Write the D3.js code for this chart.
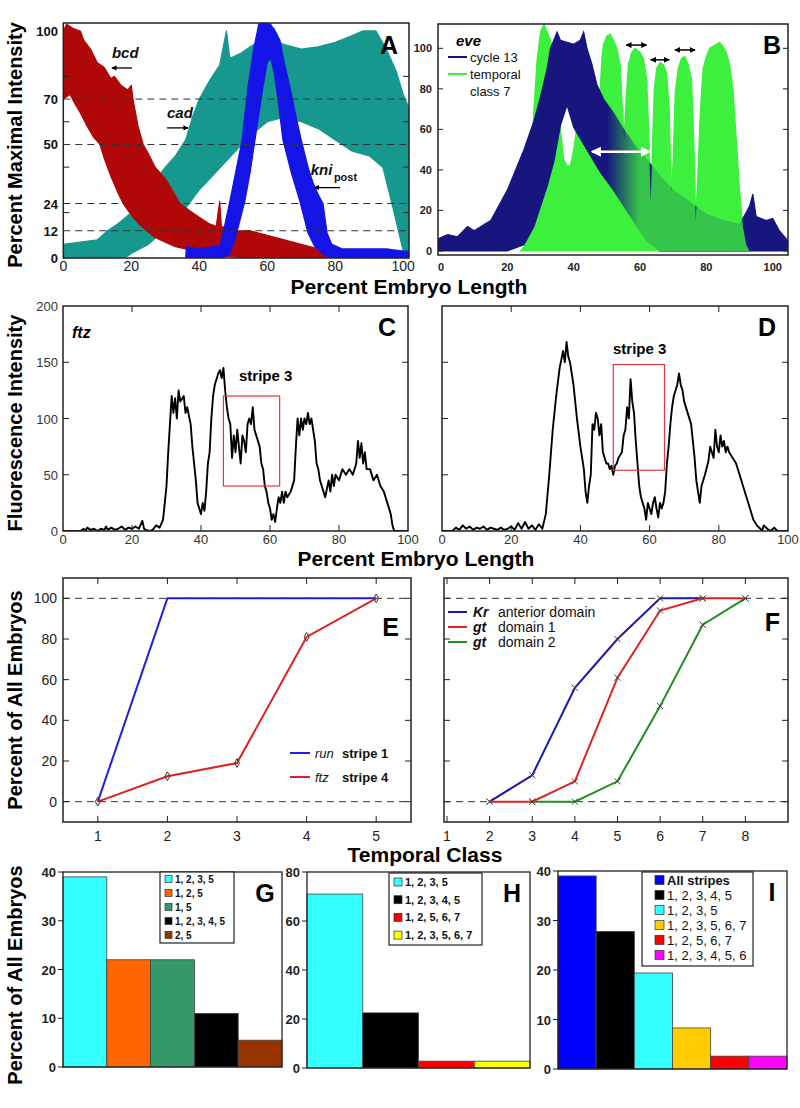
<!DOCTYPE html>
<html><head><meta charset="utf-8">
<script src="https://cdn.jsdelivr.net/npm/d3@7"></script>
<style>body{margin:0;background:#fff}svg{display:block}text{font-family:"Liberation Sans",Arial,Helvetica,sans-serif}</style>
</head><body><svg id="c" width="800" height="1108"></svg>
<script>
// ---------- Panel A data (envelopes of traces, % embryo length, % max intensity)
const bcdLow = [[0,70],[2,72],[3.4,68],[5,64],[7,58],[9,53],[10.8,50],[12,44],[14,36],[16,29],[17.6,24],[19,21],[21,17],[23,14],[24.5,12],[27,9],[30,7],[33,5],[36,4],[40,2],[45,1],[50,0.5],[55,0],[82,0]];
const bcdHigh = [[0,100],[1,103],[3,101],[5,100],[6,96],[8,92],[10,86],[12,84],[14,79],[15,80],[17,76],[19,74],[20,76],[20.5,70],[22,58],[23.5,50],[25,46],[27,40],[30,35],[32,30],[34.3,24],[37,21],[40,18],[43,15],[45,14],[46,25],[46.5,14],[50,12],[55,12],[60,10],[65,8],[70,6],[75,4],[78,2],[82,0]];
const cadLow = [[0,0],[18,0],[20,2],[25,6],[28,10],[32,16],[36,22],[40,30],[45,38],[50,46],[55,54],[60,60],[65,62],[70,60],[75,57],[80,52],[85,47],[90,45],[94,40],[97,22],[100,3],[101.7,0]];
const cadHigh = [[0,6],[5,7],[10,8],[13,12],[16,15],[20,20],[22.5,25],[26,32],[30,40],[33,45],[36,52],[38,62],[40,70],[43,78],[46,85],[48,100],[49,88],[52,90],[55,93],[58,96],[60,100],[61,104],[62,96],[65,94],[70,92],[75,93],[80,95],[85,98],[88,100],[92,100],[95,92],[98,82],[100,72],[101.7,66]];
const kniLow = [[36,0],[47,0],[49,2],[51,11],[53.4,25],[55,38],[56.4,52],[58.7,75],[60,86],[61,88],[62,82],[63.3,68],[64.6,52],[67,38],[69.6,25],[72,11],[74,5],[77,1],[80,0],[101.7,0]];
const kniHigh = [[36,0],[36.2,5],[40,4],[44,5],[46,5],[47,11],[49,25],[51,40],[52.6,52],[54.3,75],[56,92],[57.5,103],[60,104],[62,101],[63.7,96],[65,86],[66.7,75],[68.5,62],[70,52],[72,40],[73.5,33],[75,28],[76.4,24],[77.6,11],[79,6],[82,4],[90,4],[95,4],[100,3],[101.7,3]];
const aTickLabels = [0,12,24,50,70,100];
const aDashed = [12,24,50,70];
const lengthTicks = [0,20,40,60,80,100];

// ---------- Panel B data
const navyLow = [[-0.9,0],[20,0],[25,3],[28,12],[30,22],[32,32],[34,44],[36,62],[38,72],[40,61],[44,50],[48,39],[52,30],[56,20],[62,5],[66,0],[104.6,0]];
const navyHigh = [[-0.9,6],[2,8],[5,7],[8,12],[10,10],[13,13],[15,15],[18,24],[20,30],[22,38],[25,50],[28,64],[30,76],[32,90],[33,100],[34,104],[35,108],[36,104],[38,103],[40,102],[42,104],[43,108],[44,100],[45.5,92],[47,82],[49,75],[52,68],[55,60],[58,53],[61,47],[64,41],[67,35],[70,30],[75,24],[80,18],[85,15],[90,13],[93,22],[94,28],[95,17],[98,15],[100,16],[102,10],[104.6,5]];
const greenTop = [[24,0],[25,2],[26,8],[27,30],[28,70],[29,95],[30,108],[31,112],[32,108],[33,104],[34,95],[35,80],[36,60],[37,45],[38,42],[39,42],[40,50],[41,62],[42,68],[43,70],[44,68],[45,62],[46,52],[47,50],[48,80],[48.5,95],[49,102],[50,106],[51,107],[52,104],[53,100],[54,92],[54.7,70],[55.2,55],[55.8,75],[56.5,92],[57.5,98],[58.5,100],[60,98],[61,95],[62,85],[62.6,60],[63.2,24],[63.8,55],[64.3,80],[65,90],[66,93],[67,92],[68,88],[68.8,70],[69.4,29],[70,45],[70.6,78],[71.5,90],[72.5,95],[73.5,96],[74.5,92],[75.5,85],[76.2,55],[76.8,15],[77.5,40],[78.2,70],[79,90],[80,96],[81,100],[82,101],[83,102],[84,103],[85,101],[86,98],[87,92],[88,80],[89,55],[90,30],[91,12],[92,3],[93,0]];
const bTicks = [0,20,40,60,80,100];

// ---------- Panels C, D data (ftz fluorescence traces)
const ftzC = [[0,0],[5,0],[6,2],[6.5,0],[7,3],[8,1],[9,2],[10,0],[11,2],[12,1],[12.5,4],[13,1],[14,3],[15,1],[16,2],[17,4],[18,1],[19,3],[20,2],[21,4],[22,2],[23,9],[23.5,2],[24,1],[25,0],[26,1],[27,5],[28,3],[29,10],[30,40],[30.5,70],[31,95],[31.5,120],[32,105],[32.5,118],[33,100],[33.5,125],[34,115],[35,120],[35.5,105],[36,110],[37,95],[37.5,75],[38,60],[38.5,45],[39,25],[39.5,20],[40,15],[40.5,25],[41,18],[41.5,35],[42,60],[42.5,70],[43,100],[43.5,120],[44,130],[45,140],[45.5,143],[46,136],[46.5,145],[47,125],[47.5,110],[48,100],[48.5,95],[49,65],[49.5,85],[50,70],[50.5,90],[51,75],[51.5,60],[52,85],[52.5,80],[53,70],[53.5,95],[54,100],[54.5,95],[55,110],[55.5,90],[56,85],[57,75],[57.5,60],[58,55],[58.5,40],[59,35],[59.5,25],[60,20],[60.5,10],[61,15],[61.5,8],[62,20],[62.5,30],[63,25],[63.5,35],[64,25],[64.5,35],[65,30],[66,35],[67,45],[67.5,75],[68,100],[68.5,85],[69,100],[69.5,90],[70,100],[70.5,95],[71,105],[71.5,95],[72,100],[72.5,90],[73,80],[73.5,60],[74,55],[74.5,45],[75,40],[75.5,35],[76,30],[77,45],[77.5,35],[78,50],[78.5,40],[79,50],[80,45],[81,55],[82,50],[83,55],[84,50],[85,60],[85.5,80],[86,65],[86.5,78],[87,60],[87.5,70],[88,55],[89,55],[90,45],[91,50],[92,40],[93,35],[94,25],[95,15],[95.5,5],[96,0],[100,0]];
const ftzD = [[0,0],[3,0],[4,3],[5,1],[6,5],[7,2],[8,4],[9,1],[10,3],[11,2],[12,4],[13,1],[14,3],[15,2],[16,1],[17,3],[18,1],[19,2],[20,4],[21,1],[22,7],[23,2],[24,8],[25,2],[26,5],[27,1],[28,6],[29,2],[30,15],[31,50],[32,90],[33,120],[34,145],[35,160],[35.5,150],[36,168],[36.5,155],[37,150],[38,130],[39,100],[40,75],[41,55],[41.5,35],[42,25],[42.5,40],[43,50],[43.5,95],[44,90],[44.5,105],[45,100],[45.5,85],[46,95],[46.5,70],[47,65],[47.5,60],[48,60],[48.5,55],[49,58],[49.5,50],[50,58],[50.5,60],[51,65],[52,70],[52.5,85],[53,90],[53.5,110],[54,100],[54.5,135],[55,115],[55.5,105],[56,80],[56.5,60],[57,40],[57.5,30],[58,25],[58.5,20],[59,10],[59.5,25],[60,20],[60.5,15],[61,25],[61.5,30],[62,20],[62.5,12],[63,25],[63.5,20],[64,25],[64.5,35],[65,60],[65.5,75],[66,95],[66.5,110],[67,120],[68,130],[68.5,140],[69,130],[69.5,125],[70,115],[71,105],[72,95],[72.5,80],[73,65],[73.5,45],[74,35],[74.5,25],[75,40],[76,50],[77,62],[77.5,75],[78,70],[78.5,65],[79,90],[79.5,75],[80,70],[80.5,85],[81,75],[81.5,80],[82,70],[82.5,75],[83,70],[84,65],[85,60],[86,50],[87,40],[88,30],[89,20],[90,10],[91,5],[92,2],[92.5,0],[93,5],[94,2],[95,0],[96,3],[97,0],[100,0]];
const boxC = {x0:46.5, x1:62.8, y0:40, y1:120};
const boxD = {x0:49.5, x1:64.3, y0:54, y1:148};
const fluoTicks = [0,50,100,150,200];

// ---------- Panel E data
const classesE = [1,2,3,4,5];
const runStripe1 = [0,100,100,100,100];
const ftzStripe4 = [0,12.5,19,81,100];
// ---------- Panel F data
const classesKr = [2,3,4,5,6,7];
const krAnterior = [0,13,56,80,100,100];
const classesGt1 = [2,3,4,5,6,7,8];
const gtDomain1 = [0,0,10,61,94,100,100];
const classesGt2 = [3,4,5,6,7,8];
const gtDomain2 = [0,0,10,47,87,100];
const pctTicks = [0,20,40,60,80,100];

// ---------- Panels G, H, I data
const gLabels = ["1, 2, 3, 5","1, 2, 5","1, 5","1, 2, 3, 4, 5","2, 5"];
const gValues = [39,22,22,11,5.5];
const gColors = ["#33ffff","#ff6600","#339966","#000000","#993300"];
const hLabels = ["1, 2, 3, 5","1, 2, 3, 4, 5","1, 2, 5, 6, 7","1, 2, 3, 5, 6, 7"];
const hValues = [71,22.5,2.8,2.8];
const hColors = ["#33ffff","#000000","#ff0000","#ffff00"];
const iLabels = ["All stripes","1, 2, 3, 4, 5","1, 2, 3, 5","1, 2, 3, 5, 6, 7","1, 2, 5, 6, 7","1, 2, 3, 4, 5, 6"];
const iValues = [39,27.8,19.4,8.3,2.6,2.6];
const iColors = ["#0000ff","#000000","#33ffff","#ffcc00","#ff0000","#ff00ff"];

// ================= drawing =================
const svg = d3.select("#c");
const defs = svg.append("defs");
function mkArrow(id, color){
  defs.append("marker").attr("id",id).attr("viewBox","0 0 10 10").attr("refX",9).attr("refY",5)
    .attr("markerWidth",4).attr("markerHeight",4).attr("orient","auto-start-reverse")
    .append("path").attr("d","M0,0L10,5L0,10z").attr("fill",color);
}
mkArrow("ab","#000"); mkArrow("aw","#fff");
let clipN = 0;
function clip(x0,y0,x1,y1){
  const id = "cl"+(clipN++);
  defs.append("clipPath").attr("id",id).append("rect").attr("x",x0).attr("y",y0).attr("width",x1-x0).attr("height",y1-y0);
  return "url(#"+id+")";
}
function frame(x0,y0,x1,y1,w){
  svg.append("rect").attr("x",x0).attr("y",y0).attr("width",x1-x0).attr("height",y1-y0)
    .attr("fill","none").attr("stroke","#222").attr("stroke-width",w||1.5);
}
function bandPath(x,y,low,high){
  const pts = high.concat(low.slice().reverse());
  return d3.line().x(d=>x(d[0])).y(d=>y(d[1]))(pts)+"Z";
}
function inTicksY(x,y,vals,side,len){
  vals.forEach(v=>{
    const yy=y(v);
    svg.append("line").attr("x1",x.range()[0]).attr("x2",x.range()[0]+len).attr("y1",yy).attr("y2",yy).attr("stroke","#222").attr("stroke-width",1);
    svg.append("line").attr("x1",x.range()[1]).attr("x2",x.range()[1]-len).attr("y1",yy).attr("y2",yy).attr("stroke","#222").attr("stroke-width",1);
  });
}
function inTicksX(x,y,vals,len){
  vals.forEach(v=>{
    const xx=x(v);
    svg.append("line").attr("x1",xx).attr("x2",xx).attr("y1",y.range()[0]).attr("y2",y.range()[0]-len).attr("stroke","#222").attr("stroke-width",1);
    svg.append("line").attr("x1",xx).attr("x2",xx).attr("y1",y.range()[1]).attr("y2",y.range()[1]+len).attr("stroke","#222").attr("stroke-width",1);
  });
}
function txt(x,y,s,opt){
  opt=opt||{};
  const t=svg.append("text").attr("x",x).attr("y",y).text(s)
    .attr("font-size",opt.size||13).attr("font-weight",opt.weight||"normal")
    .attr("font-style",opt.style||"normal").attr("fill",opt.fill||"#111")
    .attr("text-anchor",opt.anchor||"start");
  if(opt.rot) t.attr("transform","rotate(-90,"+x+","+y+")");
  return t;
}
function dashed(x,y,v){
  svg.append("line").attr("x1",x.range()[0]).attr("x2",x.range()[1]).attr("y1",y(v)).attr("y2",y(v))
    .attr("stroke","#333").attr("stroke-width",1).attr("stroke-dasharray","7,5");
}

// ---------- Panel A
{
  const x=d3.scaleLinear().domain([0,101.7]).range([63.3,409]);
  const y=d3.scaleLinear().domain([0,103.5]).range([258,23]);
  const g=svg.append("g").attr("clip-path",clip(63.3,23,409,258));
  [[cadLow,cadHigh,"#17988f"],[bcdLow,bcdHigh,"#b00808"],[kniLow,kniHigh,"#1414e6"]].forEach(([lo,hi,c])=>{
    g.append("path").attr("d",bandPath(x,y,lo,hi)).attr("fill",c).attr("stroke",c).attr("stroke-width",1.2).attr("stroke-linejoin","round");
  });
  aDashed.forEach(v=>dashed(x,y,v));
  frame(63.3,23,409,258);
  inTicksY(x,y,[20,40,60,80],null,6);
  aTickLabels.forEach(v=>txt(58,y(v)+5,v,{size:13,weight:"bold",anchor:"end"}));
  lengthTicks.forEach(v=>txt(x(v),271,v,{size:14,anchor:"middle",fill:"#222"}));
  txt(x(14.3),y(88),"bcd",{size:15,weight:"bold",style:"italic"});
  svg.append("line").attr("x1",x(20.2)).attr("x2",x(14.3)).attr("y1",y(83.7)).attr("y2",y(83.7)).attr("stroke","#000").attr("stroke-width",1.3).attr("marker-end","url(#ab)");
  txt(x(30.5),y(61.7),"cad",{size:15,weight:"bold",style:"italic"});
  svg.append("line").attr("x1",x(30.5)).attr("x2",x(36.7)).attr("y1",y(57.3)).attr("y2",y(57.3)).attr("stroke","#000").attr("stroke-width",1.3).attr("marker-end","url(#ab)");
  txt(x(72.8),y(36.6),"kni",{size:15,weight:"bold",style:"italic"});
  txt(x(79.6),y(34),"post",{size:11,weight:"bold"});
  svg.append("line").attr("x1",x(81.4)).attr("x2",x(73.9)).attr("y1",y(31)).attr("y2",y(31)).attr("stroke","#000").attr("stroke-width",1.3).attr("marker-end","url(#ab)");
  txt(398,54,"A",{size:25,weight:"bold",anchor:"end",fill:"#000"});
}

// ---------- Panel B
{
  const x=d3.scaleLinear().domain([-0.9,104.6]).range([438,788]);
  const y=d3.scaleLinear().domain([-2,112]).range([255,24]);
  const g=svg.append("g").attr("clip-path",clip(438,24,788,255));
  const navyC="#16167e", greenC="#3df03d";
  const gArea=d3.area().x(d=>x(d[0])).y0(y(0)).y1(d=>y(d[1]));
  g.append("path").attr("d",gArea(greenTop)).attr("fill",greenC).attr("stroke",greenC).attr("stroke-width",1.2);
  g.append("path").attr("d",bandPath(x,y,navyLow,navyHigh)).attr("fill",navyC).attr("stroke",navyC).attr("stroke-width",1.2);
  // green overlay fading in to the right of the cycle-13 peak
  const grad=defs.append("linearGradient").attr("id","gfade").attr("gradientUnits","userSpaceOnUse")
    .attr("x1",x(50)).attr("x2",x(60)).attr("y1",0).attr("y2",0);
  grad.append("stop").attr("offset",0).attr("stop-color",greenC).attr("stop-opacity",0);
  grad.append("stop").attr("offset",1).attr("stop-color",greenC).attr("stop-opacity",0.8);
  g.append("path").attr("d",gArea(greenTop)).attr("fill","url(#gfade)");
  frame(438,24,788,255);
  inTicksY(x,y,bTicks,null,5);
  bTicks.forEach(v=>txt(432,y(v)+4,v,{size:11,weight:"bold",anchor:"end",fill:"#222"}));
  bTicks.forEach(v=>txt(x(v),271,v,{size:11,weight:"bold",anchor:"middle",fill:"#222"}));
  const arr=(a,b,v,c,w,m)=>svg.append("line").attr("x1",x(a)).attr("x2",x(b)).attr("y1",y(v)).attr("y2",y(v))
    .attr("stroke",c).attr("stroke-width",w).attr("marker-start",m).attr("marker-end",m);
  arr(45.5,63,49,"#fff",2.5,"url(#aw)");
  arr(55.8,62,101.6,"#000",1.5,"url(#ab)");
  arr(63.2,68.8,94.3,"#000",1.5,"url(#ab)");
  arr(70.5,76.6,99.2,"#000",1.5,"url(#ab)");
  txt(456,46,"eve",{size:15,weight:"bold",style:"italic",fill:"#000"});
  svg.append("line").attr("x1",448).attr("x2",467).attr("y1",57).attr("y2",57).attr("stroke",navyC).attr("stroke-width",2);
  txt(470,62,"cycle 13",{size:13,fill:"#111"});
  svg.append("line").attr("x1",448).attr("x2",467).attr("y1",74).attr("y2",74).attr("stroke",greenC).attr("stroke-width",2);
  txt(470,79,"temporal",{size:13,fill:"#111"});
  txt(470,96,"class 7",{size:13,fill:"#111"});
  txt(781,54,"B",{size:25,weight:"bold",anchor:"end",fill:"#000"});
}
txt(409,294,"Percent Embryo Length",{size:21,weight:"bold",anchor:"middle",fill:"#000"});
txt(22,145,"Percent Maximal Intensity",{size:20,weight:"bold",anchor:"middle",rot:true,fill:"#000"});

// ---------- Panels C & D
function tracePanel(x0,x1,data,box,labelsY,letter,stripeX,stripeY){
  const x=d3.scaleLinear().domain([0,100]).range([x0,x1]);
  const y=d3.scaleLinear().domain([0,200]).range([531,306]);
  const g=svg.append("g").attr("clip-path",clip(x0,306,x1,531));
  g.append("path").attr("d",d3.line().x(d=>x(d[0])).y(d=>y(d[1]))(data)).attr("fill","none").attr("stroke","#000").attr("stroke-width",1.9).attr("stroke-linejoin","round");
  svg.append("rect").attr("x",x(box.x0)).attr("y",y(box.y1)).attr("width",x(box.x1)-x(box.x0)).attr("height",y(box.y0)-y(box.y1))
    .attr("fill","none").attr("stroke","#e03a3a").attr("stroke-width",1.2);
  frame(x0,306,x1,531);
  inTicksX(x,y,[20,40,60,80],6);
  inTicksY(x,y,[50,100,150],null,6);
  lengthTicks.forEach(v=>txt(x(v),544,v,{size:13,anchor:"middle",fill:"#333"}));
  if(labelsY) fluoTicks.forEach(v=>txt(58,y(v)+5,v,{size:13,anchor:"end",fill:"#333"}));
  txt(stripeX,stripeY,"stripe 3",{size:15,weight:"bold",fill:"#000"});
  txt(x1-12,336,letter,{size:25,weight:"bold",anchor:"end",fill:"#000"});
}
tracePanel(63,408,ftzC,boxC,true,"C",239,381);
txt(72,338,"ftz",{size:16,weight:"bold",style:"italic",fill:"#000"});
tracePanel(442,788,ftzD,boxD,false,"D",613,354);
txt(416,566,"Percent Embryo Length",{size:21,weight:"bold",anchor:"middle",fill:"#000"});
txt(22,423,"Fluorescence Intensity",{size:20,weight:"bold",anchor:"middle",rot:true,fill:"#000"});

// ---------- Panel E
{
  const x=d3.scaleLinear().domain([0.5,5.5]).range([63,411]);
  const y=d3.scaleLinear().domain([-10,110]).range([822,578]);
  dashed(x,y,0); dashed(x,y,100);
  const line=d3.line().x(d=>x(d[0])).y(d=>y(d[1]));
  const run=classesE.map((c,i)=>[c,runStripe1[i]]);
  const ftz=classesE.map((c,i)=>[c,ftzStripe4[i]]);
  svg.append("path").attr("d",line(run)).attr("fill","none").attr("stroke","#2020e0").attr("stroke-width",2);
  svg.append("path").attr("d",line(ftz)).attr("fill","none").attr("stroke","#e02020").attr("stroke-width",2);
  svg.selectAll(null).data(ftz).enter().append("path")
    .attr("d",d3.symbol(d3.symbolDiamond,22)).attr("transform",d=>`translate(${x(d[0])},${y(d[1])})`)
    .attr("fill","none").attr("stroke","#333").attr("stroke-width",1);
  frame(63,578,411,822);
  inTicksX(x,y,classesE,6);
  inTicksY(x,y,pctTicks,null,6);
  classesE.forEach(v=>txt(x(v),841,v,{size:14,anchor:"middle",fill:"#222"}));
  pctTicks.forEach(v=>txt(57,y(v)+5,v,{size:14,anchor:"end",fill:"#222"}));
  svg.append("line").attr("x1",290).attr("x2",310).attr("y1",753).attr("y2",753).attr("stroke","#2020e0").attr("stroke-width",2);
  svg.append("line").attr("x1",290).attr("x2",310).attr("y1",777).attr("y2",777).attr("stroke","#e02020").attr("stroke-width",2);
  txt(315,758,"run",{size:13,style:"italic",fill:"#111"});
  txt(342,758,"stripe 1",{size:13,weight:"bold",fill:"#111"});
  txt(315,782,"ftz",{size:13,style:"italic",fill:"#111"});
  txt(342,782,"stripe 4",{size:13,weight:"bold",fill:"#111"});
  txt(399,636,"E",{size:25,weight:"bold",anchor:"end",fill:"#000"});
}
// ---------- Panel F
{
  const x=d3.scaleLinear().domain([0.93,9]).range([444,788]);
  const y=d3.scaleLinear().domain([-10,110]).range([822,578]);
  dashed(x,y,0); dashed(x,y,100);
  const line=d3.line().x(d=>x(d[0])).y(d=>y(d[1]));
  const series=[[classesGt2,gtDomain2,"#1f8f1f"],[classesKr,krAnterior,"#1a1aa8"],[classesGt1,gtDomain1,"#e02222"]];
  series.forEach(([cs,vs,c])=>{
    const pts=cs.map((cc,i)=>[cc,vs[i]]);
    svg.append("path").attr("d",line(pts)).attr("fill","none").attr("stroke",c).attr("stroke-width",2);
  });
  series.forEach(([cs,vs,c])=>{
    const pts=cs.map((cc,i)=>[cc,vs[i]]);
    svg.selectAll(null).data(pts).enter().append("path")
      .attr("d",d3.symbol(d3.symbolX,26)).attr("transform",d=>`translate(${x(d[0])},${y(d[1])})`)
      .attr("fill","none").attr("stroke","#444").attr("stroke-width",1);
  });
  frame(444,578,788,822);
  const xt=[1,2,3,4,5,6,7,8];
  inTicksX(x,y,xt,6);
  inTicksY(x,y,pctTicks,null,6);
  xt.forEach(v=>txt(x(v),841,v,{size:14,anchor:"middle",fill:"#222"}));
  [["#1a1aa8","Kr","anterior domain",612],["#e02222","gt","domain 1",627],["#1f8f1f","gt","domain 2",642]].forEach(([c,a,b,yy])=>{
    svg.append("line").attr("x1",448).attr("x2",467).attr("y1",yy).attr("y2",yy).attr("stroke",c).attr("stroke-width",2);
    txt(473,yy+5,a,{size:14,weight:"bold",style:"italic",fill:"#111"});
    txt(498,yy+5,b,{size:14,fill:"#111"});
  });
  txt(780,631,"F",{size:25,weight:"bold",anchor:"end",fill:"#000"});
}
txt(425,862,"Temporal Class",{size:21,weight:"bold",anchor:"middle",fill:"#000"});
txt(22,700,"Percent of All Embryos",{size:20,weight:"bold",anchor:"middle",rot:true,fill:"#000"});

// ---------- Bar panels G, H, I
function barPanel(x0,x1,yTop,yBot,ymax,tstep,labels,values,colors,legend,letter){
  const x=d3.scaleBand().domain(labels).range([x0,x1]).padding(0);
  const y=d3.scaleLinear().domain([0,ymax]).range([yBot,yTop]);
  svg.selectAll(null).data(labels).enter().append("rect")
    .attr("x",d=>x(d)).attr("width",x.bandwidth()).attr("y",(d,i)=>y(values[i])).attr("height",(d,i)=>y(0)-y(values[i]))
    .attr("fill",(d,i)=>colors[i]).attr("stroke","#444").attr("stroke-width",0.8);
  frame(x0,yTop,x1,yBot,1.3);
  d3.range(0,ymax+0.1,tstep).forEach(v=>{
    svg.append("line").attr("x1",x0-5).attr("x2",x0).attr("y1",y(v)).attr("y2",y(v)).attr("stroke","#222");
    txt(x0-7,y(v)+5,v,{size:13,weight:"bold",anchor:"end",fill:"#222"});
  });
  const L=legend;
  svg.append("rect").attr("x",L.x0).attr("y",L.y0).attr("width",L.x1-L.x0).attr("height",L.y1-L.y0).attr("fill","#fff").attr("stroke","#222").attr("stroke-width",1.2);
  labels.forEach((s,i)=>{
    const yy=L.yc+i*L.dy;
    svg.append("rect").attr("x",L.sx).attr("y",yy-L.sw/2).attr("width",L.sw).attr("height",L.sw).attr("fill",colors[i]).attr("stroke","#333").attr("stroke-width",0.7);
    txt(L.tx,yy+L.fs*0.36,s,{size:L.fs,weight:(L.boldFirst? (i===0?"bold":"normal"):"bold"),fill:"#111"});
  });
  txt(letter.x,letter.y,letter.s,{size:25,weight:"bold",anchor:"middle",fill:"#000"});
}
barPanel(63,282,872,1067,40,10,gLabels,gValues,gColors,{x0:160,x1:234,y0:872,y1:943,yc:879,dy:14,sx:165,sw:7,tx:175,fs:10},{x:265,y:902,s:"G"});
barPanel(307,530,872,1068,80,20,hLabels,hValues,hColors,{x0:389,x1:482,y0:873,y1:945,yc:882,dy:17.7,sx:394,sw:8,tx:405,fs:11},{x:512,y:902,s:"H"});
barPanel(558,787,871,1069,40,10,iLabels,iValues,iColors,{x0:642,x1:753,y0:872,y1:966,yc:880,dy:15,sx:655,sw:9,tx:667,fs:13,boldFirst:true},{x:772,y:901,s:"I"});
txt(22,975,"Percent of All Embryos",{size:20,weight:"bold",anchor:"middle",rot:true,fill:"#000"});
</script></body></html>
